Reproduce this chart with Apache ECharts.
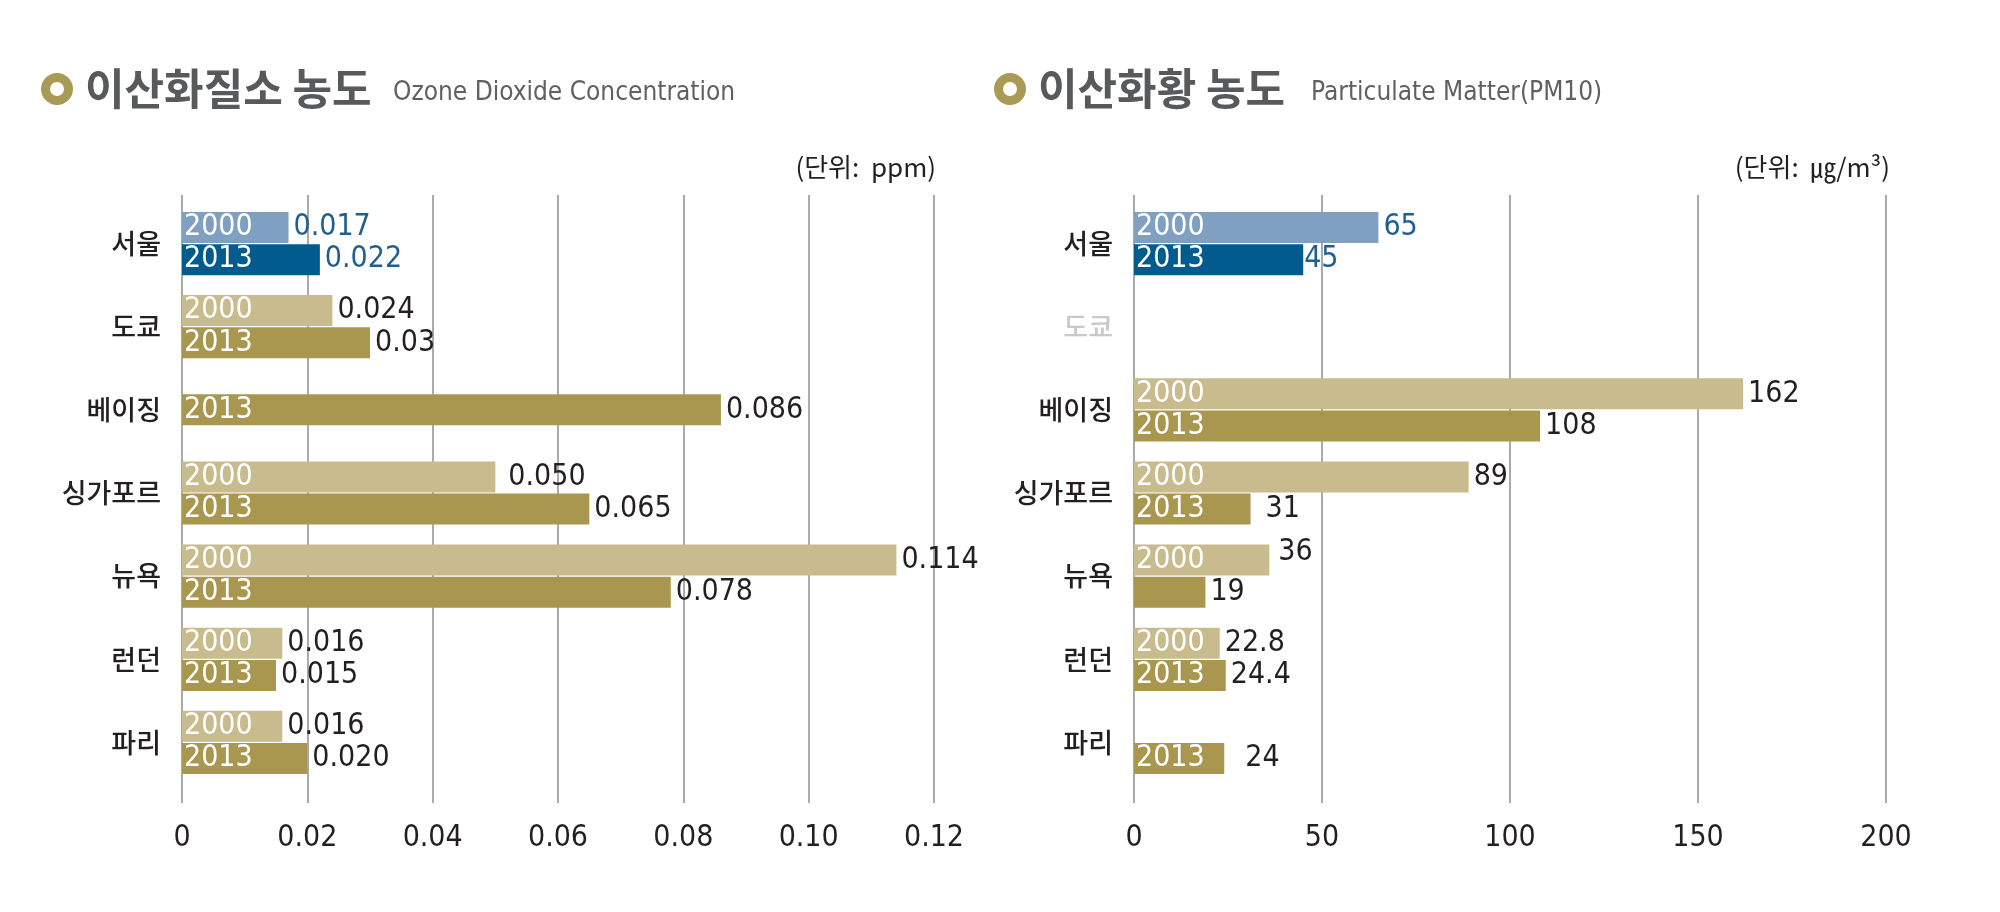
<!DOCTYPE html>
<html><head><meta charset="utf-8">
<script src="https://cdn.jsdelivr.net/npm/echarts@6/dist/echarts.min.js"></script>
<style>html,body{margin:0;padding:0;background:#fff}#c{width:2000px;height:912px}</style>
</head><body><div id="c"></div>
<script>
// ---------- data ----------
const cities = ['서울','도쿄','베이징','싱가포르','뉴욕','런던','파리'];
const years = ['2000','2013'];
const no2_2000 = ['0.017','0.024',null,'0.050','0.114','0.016','0.016'];
const no2_2013 = ['0.022','0.03','0.086','0.065','0.078','0.015','0.020'];
const pm_2000 = ['65',null,'162','89','36','22.8',null];
const pm_2013 = ['45',null,'108','31','19','24.4','24'];
const no2Ticks = ['0','0.02','0.04','0.06','0.08','0.10','0.12'];
const pmTicks = ['0','50','100','150','200'];
const no2Title = '이산화질소 농도', no2Sub = 'Ozone Dioxide Concentration', no2Unit = '(단위:  ppm)';
const pmTitle = '이산화황 농도', pmSub = 'Particulate Matter(PM10)', pmUnit = '(단위:  ㎍/m³)';

// ---------- style ----------
const NUM = "'DejaVu Sans Condensed','Liberation Sans',sans-serif";
const KR = "'Noto Sans CJK KR','Noto Sans',sans-serif";
const GOLD = '#a99a55';
const C = {b2000:'#80a0c1', b2013:'#005b8e', t2000:'#c8bb8e', t2013:'#a9974f'};
const PW = 752;
function barColor(yr, i){ return i===0 ? (yr==='2000'?C.b2000:C.b2013) : (yr==='2000'?C.t2000:C.t2013); }
const nudge = {'no2-2000-3':[8,0],'pm-2013-3':[10,0],'pm-2013-6':[16,0],'pm-2000-4':[4,-8],'pm-2013-0':[-4,0]};

function pairSeries(key, raw, yrOf, stack, xi, yi, max){
  const main = {
    type:'bar', xAxisIndex:xi, yAxisIndex:yi, stack, stackStrategy:'all',
    barWidth:31, barGap:'4%', silent:true, z:3,
    data: raw.map((t,i)=> t==null ? null : {value:parseFloat(t), itemStyle:{color:barColor(yrOf(i), i)}}),
    label:{show:true, position:'insideLeft', distance:2, color:'#fff', fontFamily:NUM, fontSize:30,
      formatter:p => (p.value/max*PW < 80 ? '' : yrOf(p.dataIndex))}
  };
  const val = {
    type:'bar', xAxisIndex:xi, yAxisIndex:yi, stack, stackStrategy:'all',
    barWidth:31, barGap:'4%', silent:true, z:4,
    itemStyle:{color:'rgba(0,0,0,0)'},
    data: raw.map((t,i)=> t==null ? null : {value:0,
      label:{color: i===0 ? '#1d5f91' : '#231f20', offset: nudge[key+'-'+yrOf(i)+'-'+i] || [0,0]}}),
    label:{show:true, position:'right', distance:5, fontFamily:NUM, fontSize:30,
      formatter:p => raw[p.dataIndex]}
  };
  return [main, val];
}

const series = [];
// left chart: single-year categories are centred
const single = cities.map((c,i)=> (no2_2000[i]==null) !== (no2_2013[i]==null));
series.push(...pairSeries('no2', no2_2000.map((v,i)=>single[i]?null:v), ()=> '2000', 'L2000', 0, 0, 0.12));
series.push(...pairSeries('no2', no2_2013.map((v,i)=>single[i]?null:v), ()=> '2013', 'L2013', 0, 0, 0.12));
series.push(...pairSeries('no2s', cities.map((c,i)=> single[i] ? (no2_2000[i] ?? no2_2013[i]) : null),
  i => no2_2000[i]!=null ? '2000' : '2013', 'Lsingle', 0, 1, 0.12));
// right chart
series.push(...pairSeries('pm', pm_2000, ()=> '2000', 'R2000', 2, 3, 200));
series.push(...pairSeries('pm', pm_2013, ()=> '2013', 'R2013', 2, 3, 200));

const barsGrid = l => ({left:l, width:PW, top:202, height:582});
const lineGrid = l => ({left:l, width:PW, top:195, height:608});
const hiddenVal = (g,max) => ({type:'value', gridIndex:g, min:0, max, show:false});
const visVal = (g,max,step,ticks) => ({type:'value', gridIndex:g, min:0, max, interval:step,
  axisLine:{show:false}, axisTick:{show:false},
  splitLine:{show:true, lineStyle:{color:'#8e8e8e', width:1.5}},
  axisLabel:{margin:20, color:'#231f20', fontFamily:NUM, fontSize:30,
    formatter:v => ticks[Math.round(v/step)] ?? ''}});
const catAxis = (g, vals) => ({type:'category', gridIndex:g, data:cities, inverse:true,
  axisLine:{show:false}, axisTick:{show:false}, splitLine:{show:false},
  axisLabel:{margin:21, fontFamily:KR, fontSize:27, fontWeight:500,
    color:(v,i)=> (vals[0][i]==null && vals[1][i]==null) ? '#c9c9c9' : '#231f20'}});

function header(x, title, sub, subX){
  return [
    {type:'ring', shape:{cx:x, cy:89, r:16, r0:7}, style:{fill:GOLD}},
    {type:'text', x:x+28, y:89, style:{text:title, fill:'#58595b', font:"bold 43px "+KR, textVerticalAlign:'middle'}},
    {type:'text', x:subX, y:93, style:{text:sub, fill:'#5f6062', font:"26px "+NUM, textVerticalAlign:'middle'}}
  ];
}
function unit(xr, text){
  return {type:'text', x:xr, y:167, style:{text:text, fill:'#231f20', font:"26px "+KR, textAlign:'right', textVerticalAlign:'middle'}};
}

const chart = echarts.init(document.getElementById('c'));
chart.setOption({
  animation:false,
  backgroundColor:'#fff',
  grid:[barsGrid(182), lineGrid(182), barsGrid(1134), lineGrid(1134)],
  xAxis:[hiddenVal(0,0.12), visVal(1,0.12,0.02,no2Ticks), hiddenVal(2,200), visVal(3,200,50,pmTicks)],
  yAxis:[catAxis(0,[no2_2000,no2_2013]),
         {type:'category', gridIndex:0, data:cities, inverse:true, show:false, position:'right'},
         {type:'value', gridIndex:1, show:false},
         catAxis(2,[pm_2000,pm_2013]),
         {type:'value', gridIndex:3, show:false}],
  series,
  graphic:[...header(57, no2Title, no2Sub, 393), ...header(1010, pmTitle, pmSub, 1311),
           unit(936, no2Unit), unit(1890, pmUnit)]
});
</script></body></html>
